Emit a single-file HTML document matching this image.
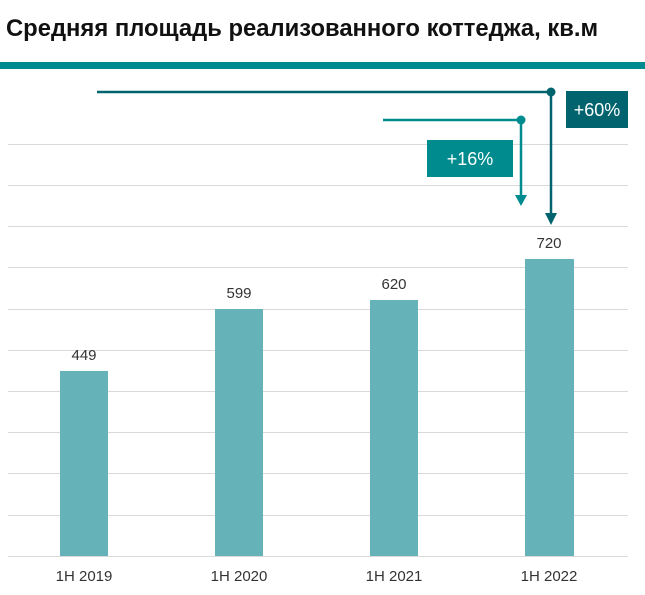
<!DOCTYPE html>
<html><head><meta charset="utf-8"><style>body{margin:0;background:#fff}</style></head><body>
<svg width="645" height="590" xmlns="http://www.w3.org/2000/svg" font-family="Liberation Sans, sans-serif">
<text x="6" y="36" font-size="23.8" font-weight="bold" fill="#111">Средняя площадь реализованного коттеджа, кв.м</text>
<rect x="0" y="62" width="645" height="7" fill="#008b8f"/>
<g stroke="#d9d9d9" stroke-width="1">
<line x1="8" x2="628" y1="144.5" y2="144.5"/><line x1="8" x2="628" y1="185.5" y2="185.5"/><line x1="8" x2="628" y1="226.5" y2="226.5"/><line x1="8" x2="628" y1="267.5" y2="267.5"/><line x1="8" x2="628" y1="309.5" y2="309.5"/><line x1="8" x2="628" y1="350.5" y2="350.5"/><line x1="8" x2="628" y1="391.5" y2="391.5"/><line x1="8" x2="628" y1="432.5" y2="432.5"/><line x1="8" x2="628" y1="473.5" y2="473.5"/><line x1="8" x2="628" y1="515.5" y2="515.5"/><line x1="8" x2="628" y1="556.5" y2="556.5"/>
</g>
<g fill="#65b3b8">
<rect x="60" y="371" width="48" height="185"/><rect x="215" y="309" width="48" height="247"/><rect x="370" y="300" width="48" height="256"/><rect x="525" y="259" width="49" height="297"/>
</g>
<g font-size="15" fill="#333" text-anchor="middle">
<text x="84" y="360">449</text><text x="239" y="298">599</text><text x="394" y="289">620</text><text x="549" y="248">720</text>
<text x="84" y="581">1H 2019</text><text x="239" y="581">1H 2020</text><text x="394" y="581">1H  2021</text><text x="549" y="581">1H 2022</text>
</g>
<g stroke="#00636e" stroke-width="2.5" fill="none"><polyline points="97,92 551,92 551,215"/></g>
<circle cx="551" cy="92" r="4.5" fill="#00636e"/><polygon points="545,213 557,213 551,225" fill="#00636e"/>
<g stroke="#008b8f" stroke-width="2.5" fill="none"><polyline points="383,120 521,120 521,196"/></g>
<circle cx="521" cy="120" r="4.5" fill="#008b8f"/><polygon points="515,195 527,195 521,206" fill="#008b8f"/>
<rect x="566" y="91" width="62" height="37" fill="#00636e"/><text x="597" y="116" font-size="18" fill="#fff" text-anchor="middle">+60%</text>
<rect x="427" y="140" width="86" height="37" fill="#008b8f"/><text x="470" y="165" font-size="18" fill="#fff" text-anchor="middle">+16%</text>
</svg>
</body></html>
